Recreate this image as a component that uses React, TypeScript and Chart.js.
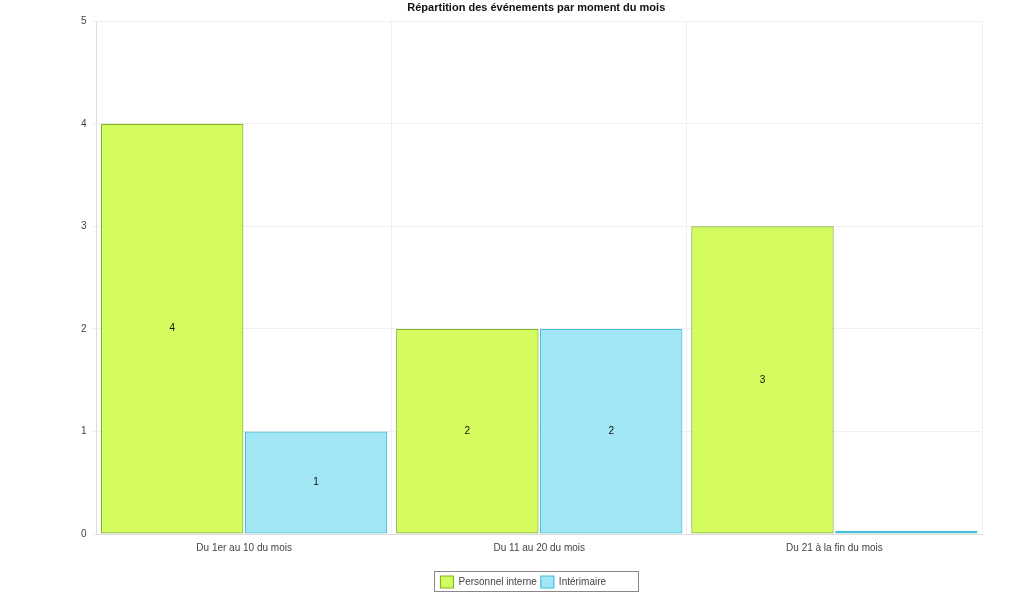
import React, { useEffect, useRef } from "react";
import { Chart, registerables } from "chart.js";

Chart.register(...registerables);

const categories = ["Du 1er au 10 du mois", "Du 11 au 20 du mois", "Du 21 à la fin du mois"];
const personnelInterne = [4, 2, 3];
const interimaire = [1, 2, 0];
const yTicks = [0, 1, 2, 3, 4, 5];
const titleText = "Répartition des événements par moment du mois";

const FONT = "'Liberation Sans', Arial, sans-serif";

const barLabelPlugin = {
  id: "barLabels",
  afterDatasetsDraw(chart: any) {
    const ctx = chart.ctx;
    ctx.save();
    ctx.font = `10px ${FONT}`;
    ctx.fillStyle = "#111";
    ctx.textAlign = "center";
    ctx.textBaseline = "middle";
    chart.data.datasets.forEach((ds: any, i: number) => {
      const meta = chart.getDatasetMeta(i);
      meta.data.forEach((el: any, j: number) => {
        const v = ds.data[j];
        if (!v) return;
        ctx.fillText(String(v), el.x, (el.y + el.base) / 2);
      });
    });
    ctx.restore();
  },
};

const recenterPlugin = {
  id: "recenter",
  afterLayout(chart: any) {
    const ca = chart.chartArea;
    const t = chart.titleBlock;
    if (t) {
      t.left = ca.left - 3;
      t.right = ca.right - 3;
      t.width = t.right - t.left;
    }
    const lg = chart.legend;
    if (lg) {
      lg.left = ca.left - 16;
      lg.right = ca.right - 16;
      lg.width = lg.right - lg.left;
    }
  },
};

const legendBorderPlugin = {
  id: "legendBorder",
  afterDraw(chart: any) {
    const lg = chart.legend;
    if (!lg || !lg.legendHitBoxes || !lg.legendHitBoxes.length) return;
    const boxes = lg.legendHitBoxes;
    let l = Infinity, r = -Infinity, t = Infinity;
    boxes.forEach((h: any) => {
      l = Math.min(l, h.left);
      r = Math.max(r, h.left + h.width);
      t = Math.min(t, h.top);
    });
    const ctx = chart.ctx;
    ctx.save();
    ctx.strokeStyle = "#888";
    ctx.lineWidth = 1;
    ctx.strokeRect(Math.round(l - 6) + 0.5, Math.round(t - 5) + 0.5, Math.round(r - l + 38), 20);
    ctx.restore();
  },
};

export default function App() {
  const ref = useRef<HTMLCanvasElement | null>(null);
  useEffect(() => {
    document.body.style.margin = "0";
    if (!ref.current) return;
    const chart = new Chart(ref.current, {
      type: "bar",
      data: {
        labels: categories,
        datasets: [
          {
            label: "Personnel interne",
            data: personnelInterne,
            backgroundColor: "rgb(212,252,94)",
            borderColor: "rgb(128,182,40)",
            borderWidth: 1.2,
            borderSkipped: false,
            categoryPercentage: 0.975,
            barPercentage: 0.99,
          },
          {
            label: "Intérimaire",
            data: interimaire,
            backgroundColor: "rgb(161,230,245)",
            borderColor: "rgb(70,190,215)",
            borderWidth: 1.2,
            borderSkipped: false,
            minBarLength: 3,
            categoryPercentage: 0.975,
            barPercentage: 0.99,
          },
        ],
      },
      options: {
        animation: false,
        responsive: false,
        maintainAspectRatio: false,
        layout: { padding: { left: 75, right: 50, top: 0, bottom: 2 } },
        plugins: {
          title: {
            display: true,
            text: titleText,
            color: "#111",
            font: { family: FONT, size: 11, weight: "bold" },
            padding: { top: 1, bottom: 7 },
          },
          legend: {
            position: "bottom",
            labels: {
              boxWidth: 13,
              boxHeight: 12,
              padding: 4,
              color: "#444",
              font: { family: FONT, size: 10 },
            },
          },
          tooltip: { enabled: false },
        },
        scales: {
          x: {
            grid: { color: "#efefef", drawTicks: false },
            border: { color: "#ddd" },
            ticks: { color: "#444", font: { family: FONT, size: 10 }, padding: 8 },
            afterFit: (scale: any) => {
              scale.height = 38;
            },
          },
          y: {
            min: 0,
            max: 5,
            afterBuildTicks: (scale: any) => {
              scale.ticks = yTicks.map((v) => ({ value: v }));
            },
            grid: { color: "#efefef", tickLength: 4 },
            border: { color: "#ddd" },
            ticks: { color: "#444", font: { family: FONT, size: 10 }, padding: 6 },
          },
        },
      },
      plugins: [recenterPlugin, barLabelPlugin, legendBorderPlugin],
    });
    return () => chart.destroy();
  }, []);
  return (
    <div style={{ width: 1032, height: 600 }}>
      <canvas ref={ref} width={1032} height={600} style={{ display: "block" }} />
    </div>
  );
}
